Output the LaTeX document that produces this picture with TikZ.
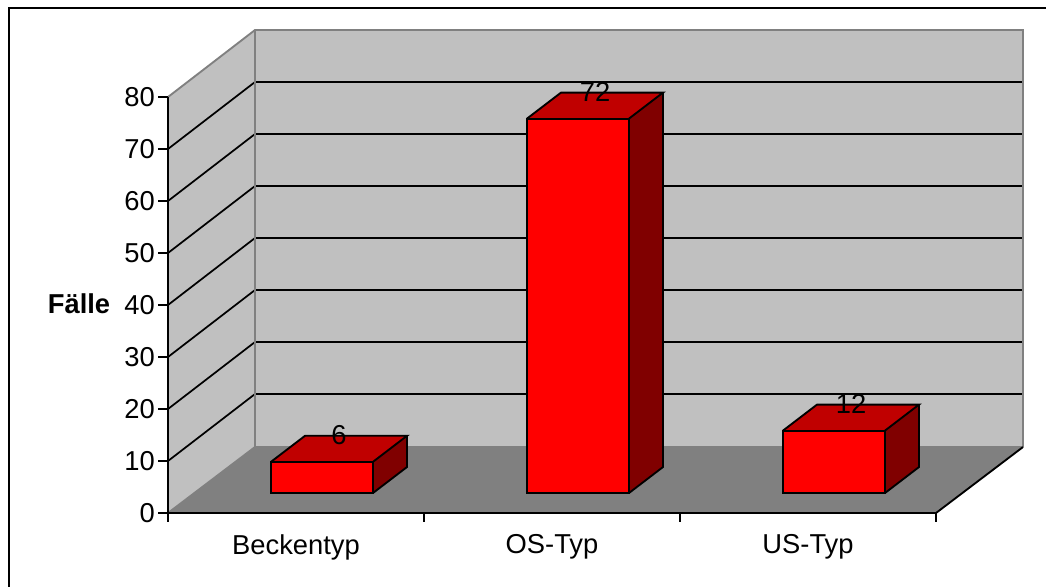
\documentclass[tikz,border=0pt]{standalone}
\usepackage{fontspec}
\setmainfont{Liberation Sans}
\definecolor{wallgray}{RGB}{192,192,192}
\definecolor{floorgray}{RGB}{128,128,128}
\definecolor{barfront}{RGB}{255,0,0}
\definecolor{bartop}{RGB}{192,0,0}
\definecolor{barside}{RGB}{128,0,0}
\begin{document}
\begin{tikzpicture}[x=0.75pt,y=-0.75pt,
  wall/.style={fill=wallgray},
  floorfill/.style={fill=floorgray},
  edge/.style={draw=floorgray,line width=1.4pt},
  grid/.style={draw=black,line width=1.3pt},
  axis/.style={draw=black,line width=1.4pt},
  barline/.style={draw=black,line width=1.4pt,line join=miter},
  txt/.style={font=\fontsize{20.5}{23}\selectfont,inner sep=0pt}]
\useasboundingbox (0,0) rectangle (1046,586);
\fill[white] (0,0) rectangle (1046,586);
% outer frame (left and top visible)
\draw[line width=1.8pt] (9,590) -- (9,8) -- (1050,8);
% walls
\fill[wall] (255,30) rectangle (1023,447);
\fill[wall] (168,97) -- (255,30) -- (255,447) -- (168,513) -- cycle;
\fill[floorfill] (168,513) -- (255,447) -- (1023,447) -- (936,513) -- cycle;
% grid lines
\foreach \v in {10,20,...,70}{
  \pgfmathsetmacro\yy{513-5.2*\v}
  \draw[grid] (168,\yy) -- (255,\yy-67) -- (1023,\yy-67);
}
% wall edges
\draw[edge] (168,97) -- (255,30) -- (1023,30) -- (1023,447);
\draw[edge] (255,30) -- (255,447) -- (1023,447);
\draw[edge] (168,513) -- (255,447);
% axes
\draw[axis] (168,97) -- (168,513) -- (936,513) -- (1023,447);
\foreach \v in {0,10,...,80}{
  \pgfmathsetmacro\yy{513-5.2*\v}
  \draw[axis] (158,\yy) -- (168,\yy);
  \node[txt,anchor=east] (yl\v) at (155,\yy) {\v};
}
\foreach \xx in {168,424,680,936}{
  \draw[axis] (\xx,513) -- (\xx,522);
}
% bars
\foreach \x/\v in {271/6,527/72,783/12}{
  \pgfmathsetmacro\yt{493-5.2*\v}
  \fill[barfront] (\x,493) rectangle (\x+102,\yt);
  \fill[bartop] (\x,\yt) -- (\x+34,\yt-26) -- (\x+136,\yt-26) -- (\x+102,\yt) -- cycle;
  \fill[barside] (\x+102,493) -- (\x+102,\yt) -- (\x+136,\yt-26) -- (\x+136,467) -- cycle;
  \draw[barline] (\x,493) rectangle (\x+102,\yt);
  \draw[barline] (\x,\yt) -- (\x+34,\yt-26) -- (\x+136,\yt-26) -- (\x+102,\yt);
  \draw[barline] (\x+102,493) -- (\x+136,467) -- (\x+136,\yt-26);
  \node[txt] (bl\v) at (\x+68,\yt-27) {\v};
}
% labels
\node[txt,font=\fontsize{20.5}{23}\selectfont\bfseries] (ylab) at (79,304) {Fälle};
\node[txt] (c1) at (296,547) {Beckentyp};
\node[txt] (c2) at (552,547) {OS-Typ};
\node[txt] (c3) at (808,547) {US-Typ};
\end{tikzpicture}
\end{document}
